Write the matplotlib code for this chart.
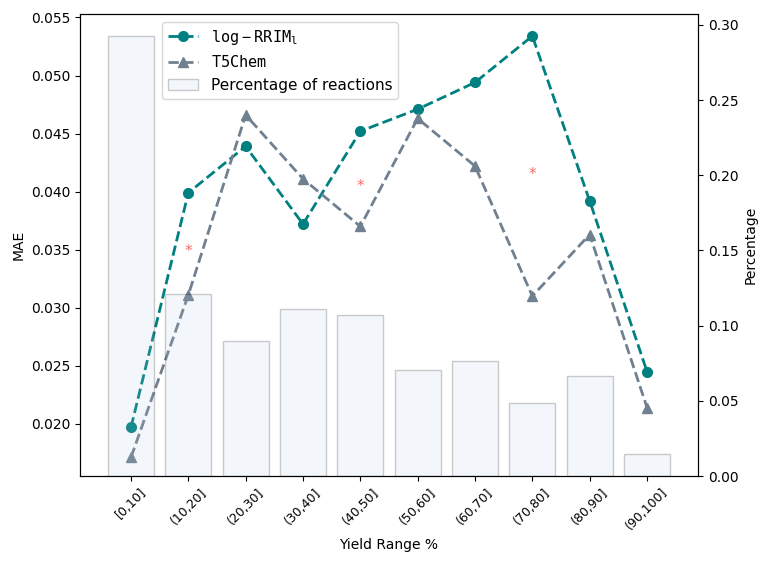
import matplotlib
matplotlib.use("Agg")
import matplotlib.pyplot as plt
from matplotlib.colors import to_rgba
import numpy as np

categories = ["[0,10]", "(10,20]", "(20,30]", "(30,40]", "(40,50]",
              "(50,60]", "(60,70]", "(70,80]", "(80,90]", "(90,100]"]
rrim_mae = [0.0197, 0.0399, 0.0439, 0.0372, 0.0452, 0.0471, 0.0494, 0.0534, 0.0392, 0.0245]
t5chem_mae = [0.0171, 0.0311, 0.0466, 0.0411, 0.0370, 0.0463, 0.0422, 0.0310, 0.0363, 0.0214]
percentage = [0.2927, 0.1213, 0.0900, 0.1113, 0.1073, 0.0707, 0.0767, 0.0487, 0.0667, 0.0147]
star_idx = [1, 4, 7]
star_y = [0.0348, 0.0404, 0.0415]

fig, ax1 = plt.subplots(figsize=(7.69, 5.62), dpi=100)
fig.subplots_adjust(left=0.104, right=0.9077, top=0.9751, bottom=0.153)
x = np.arange(len(categories))

l1, = ax1.plot(x, rrim_mae, linestyle="--", marker="o", color="teal", linewidth=2,
               markersize=7, label=r"$\mathtt{log-RRIM_l}$")
l2, = ax1.plot(x, t5chem_mae, linestyle="--", marker="^", color="slategray", linewidth=2,
               markersize=7, label=r"$\mathtt{T5Chem}$")
for i, yv in zip(star_idx, star_y):
    ax1.text(x[i], yv, "*", color="red", alpha=0.6, ha="center", va="center", fontsize=11)
ax1.set_ylim(0.0155, 0.0553)
ax1.set_ylabel("MAE")
ax1.set_xlabel("Yield Range %")
ax1.set_xticks(x)
ax1.set_xticklabels(categories, rotation=45, fontsize=9)

ax2 = ax1.twinx()
b = ax2.bar(x, percentage, width=0.8, facecolor=to_rgba("lightsteelblue", 0.15),
            edgecolor=to_rgba("black", 0.2), label="Percentage of reactions")
ax2.set_ylabel("Percentage")
ax2.set_ylim(0, 0.3073)

ax2.legend([l1, l2, b], [l1.get_label(), l2.get_label(), b.get_label()],
           loc="upper left", bbox_to_anchor=(0.12, 1.0), fontsize=11)

fig.savefig("out.png", dpi=100)
